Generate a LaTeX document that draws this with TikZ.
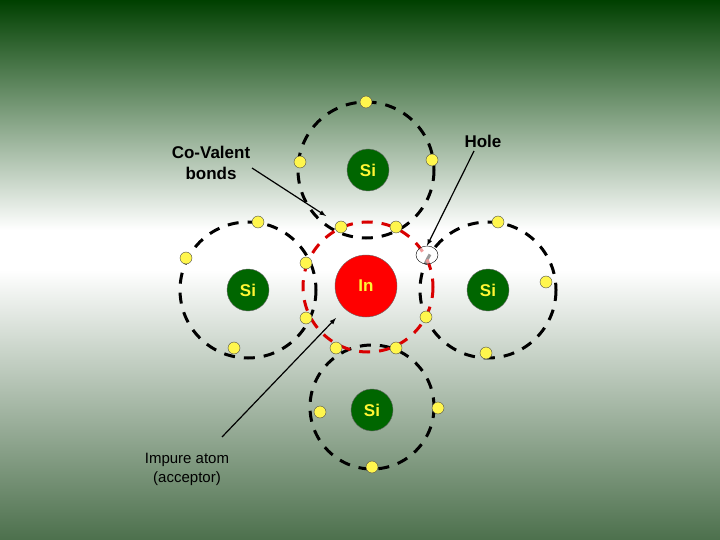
\documentclass[tikz,border=0pt]{standalone}
\usepackage{fontspec}
\usetikzlibrary{shapes.geometric}
\setmainfont{Liberation Sans}
\begin{document}
\begin{tikzpicture}[x=1pt,y=-1pt,
  orbit/.style={draw=black,line width=3pt,dash pattern=on 11pt off 9pt},
  redorbit/.style={draw=red!85!black,line width=3pt,dash pattern=on 11pt off 9pt},
  atom/.style={circle,draw=black!60,fill=green!40!black,minimum size=42pt,inner sep=0pt,text=yellow!80!white,font=\bfseries\fontsize{17}{19}\selectfont},
  elec/.style={circle,draw=black!70,fill=yellow!70!white,minimum size=12pt,inner sep=0pt},
  lbl/.style={font=\bfseries\fontsize{17}{21}\selectfont,align=center},
  arr/.style={-latex,line width=1.2pt}]
\useasboundingbox (0,0) rectangle (720,540);
\shade[top color=green!25!black,bottom color=white] (0,0) rectangle (720,230);
\fill[white] (0,230) rectangle (720,270);
\shade[top color=white,bottom color=green!20!black!70] (0,270) rectangle (720,540);
% orbits
\draw[orbit] (366,170) circle (68);
\draw[orbit] (248,290) circle (68);
\draw[orbit] (488,290) circle (68);
\draw[orbit] (372,407) circle (62);
\draw[redorbit] (368,287) circle (65);
% atoms
\node[atom] (sit) at (368,170) {Si};
\node[atom] (sil) at (248,290) {Si};
\node[atom] (sir) at (488,290) {Si};
\node[atom] (sib) at (372,410) {Si};
\node[circle,draw=black!60,fill=red,minimum size=62pt,inner sep=0pt,text=yellow!80!white,font=\bfseries\fontsize{17}{19}\selectfont] (in) at (366,286) {In};
% electrons
\foreach \n/\x/\y in {e1/366/102,e2/300/162,e3/432/160,e4/341/227,e5/396/227,
  e6/258/222,e7/186/258,e8/306/263,e9/306/318,e10/234/348,
  e11/498/222,e12/546/282,e13/426/317,e14/486/353,
  e15/336/348,e16/396/348,e17/320/412,e18/438/408,e19/372/467}
  \node[elec] (\n) at (\x,\y) {};
\node[ellipse,draw=black,fill=white,fill opacity=0.6,minimum width=22pt,minimum height=18pt,inner sep=0pt] (hole) at (427,255) {};
% labels
\node[lbl] (cv) at (211,163) {Co-Valent\\bonds};
\node[lbl] (hl) at (483,141) {Hole};
\node[font=\fontsize{15}{19}\selectfont,align=center] (imp) at (187,469) {Impure atom\\(acceptor)};
\coordinate (cvs) at (252,168);
\coordinate (cve) at (326,216);
\coordinate (hls) at (474,151);
\coordinate (ims) at (222,437);
\coordinate (ime) at (336,318);
\draw[arr] (cvs) -- (cve);
\draw[arr] (hls) -- (hole.north);
\draw[arr] (ims) -- (ime);
\end{tikzpicture}
\end{document}
